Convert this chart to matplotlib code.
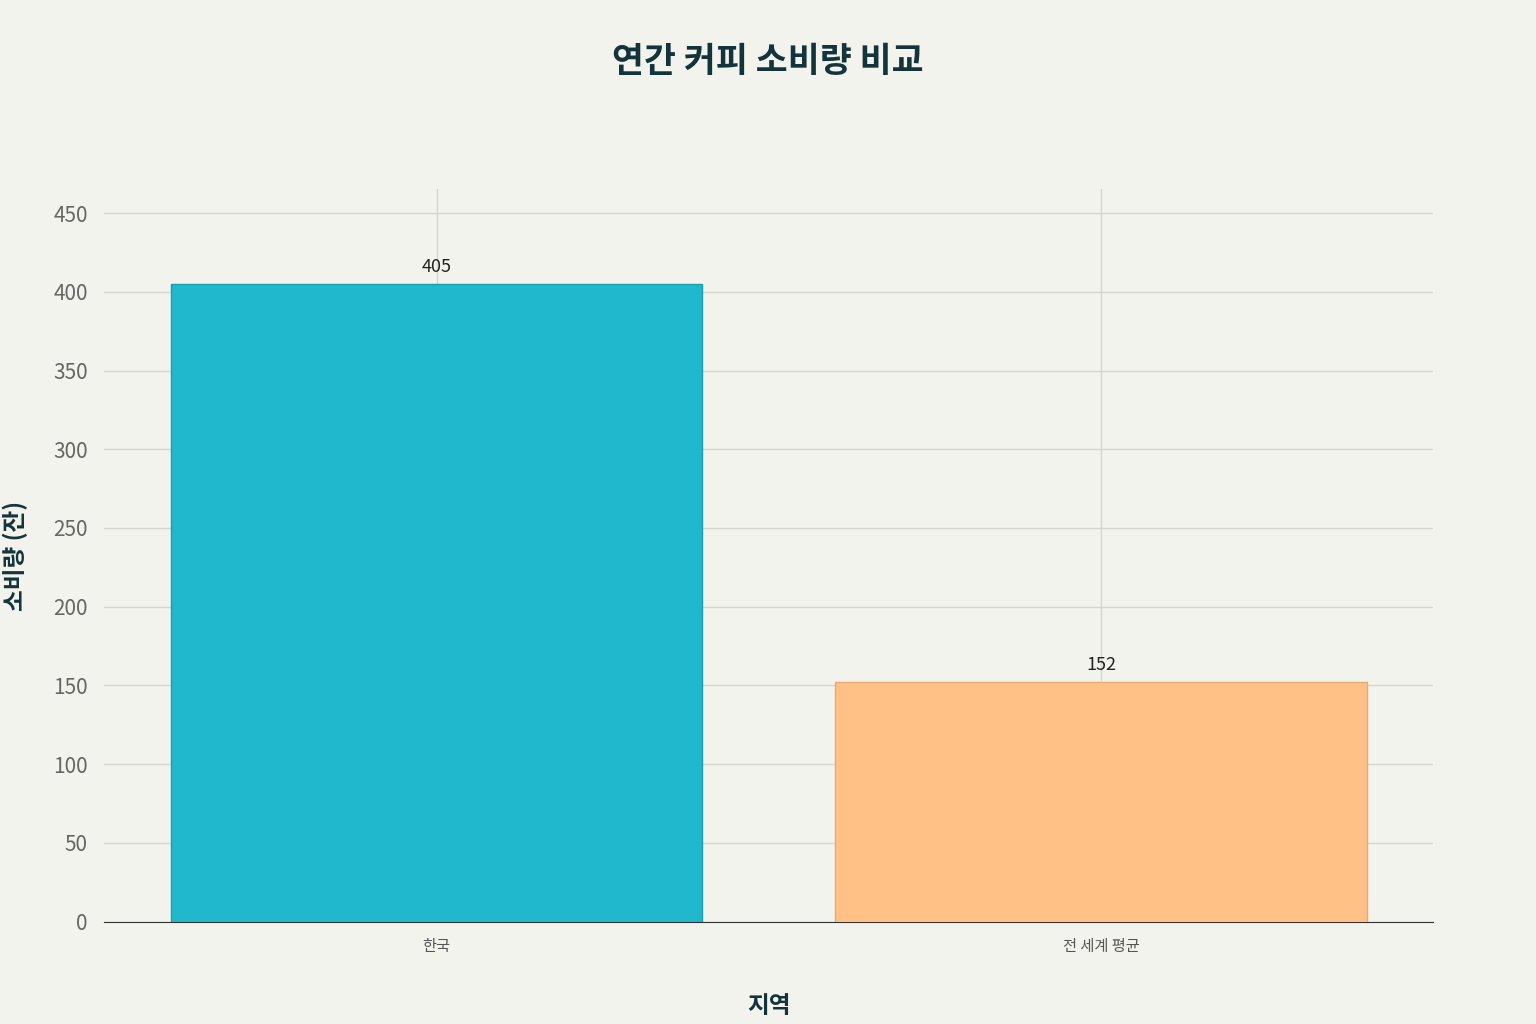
import matplotlib
matplotlib.use("Agg")
import matplotlib.pyplot as plt

plt.rcParams['font.family'] = ['Noto Sans CJK KR', 'DejaVu Sans']

categories = ["한국", "전 세계 평균"]
values = [405, 152]
colors = ["#1FB8CD", "#FFC185"]
edge_colors = ["#1a9fb0", "#e8a870"]
yticks = [0, 50, 100, 150, 200, 250, 300, 350, 400, 450]

bg = "#F3F3EE"
fig = plt.figure(figsize=(15.36, 10.24), dpi=100, facecolor=bg)
ax = fig.add_axes([0.068, 0.10, 0.865, 0.715], facecolor=bg)

x = list(range(len(categories)))
ax.bar(x, values, width=0.8, color=colors, edgecolor=edge_colors, linewidth=1, zorder=3)
for xi, v in zip(x, values):
    ax.text(xi, v + 5, str(v), ha='center', va='bottom', fontsize=13, color='#222222', zorder=4)

ax.set_xlim(-0.5, 1.5)
ax.set_ylim(0, 465)
ax.set_yticks(yticks)
ax.set_xticks(x)
ax.set_xticklabels(categories, fontsize=11, color='#555555')
ax.tick_params(axis='y', labelsize=15, colors='#666666', length=0, pad=12)
ax.tick_params(axis='x', length=0, pad=12)
ax.grid(True, color='#D5D5D0', linewidth=1, zorder=0)
for s in ['top', 'right', 'left']:
    ax.spines[s].set_visible(False)
ax.spines['bottom'].set_color('#333333')

ax.set_xlabel("지역", fontsize=17, fontweight='bold', color='#13343B', labelpad=28)
ax.set_ylabel("소비량 (잔)", fontsize=17, fontweight='bold', color='#13343B', labelpad=18)
fig.text(0.5, 0.94, "연간 커피 소비량 비교", ha='center', va='center', fontsize=25, fontweight='bold', color='#13343B')

fig.savefig("out.png", dpi=100, facecolor=bg)
